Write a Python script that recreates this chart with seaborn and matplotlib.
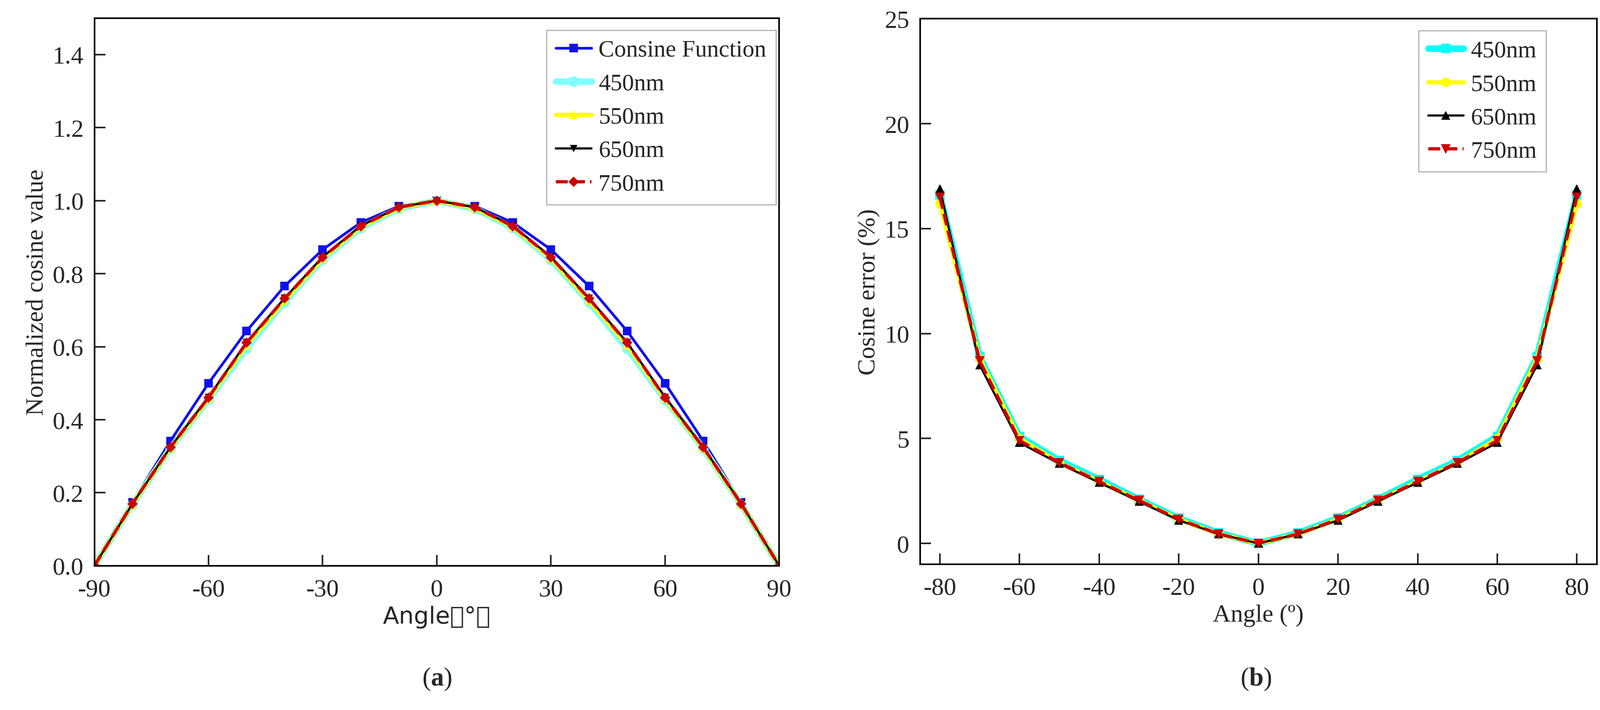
import pandas as pd
import matplotlib.pyplot as plt
import seaborn as sns

# ---- data (a) ----
angle_a = [-90, -80, -70, -60, -50, -40, -30, -20, -10, 0, 10, 20, 30, 40, 50, 60, 70, 80, 90]
cosine_fn = [0.0, 0.174, 0.342, 0.5, 0.643, 0.766, 0.866, 0.940, 0.985, 1.0,
             0.985, 0.940, 0.866, 0.766, 0.643, 0.5, 0.342, 0.174, 0.0]
nm450_a = [0.0, 0.168, 0.322, 0.455, 0.595, 0.722, 0.838, 0.925, 0.978, 1.0,
           0.978, 0.925, 0.838, 0.722, 0.595, 0.455, 0.322, 0.168, 0.0]
nm550_a = [0.0, 0.169, 0.323, 0.458, 0.605, 0.727, 0.842, 0.928, 0.980, 1.0,
           0.980, 0.928, 0.842, 0.727, 0.605, 0.458, 0.323, 0.169, 0.0]
nm650_a = [0.0, 0.170, 0.325, 0.462, 0.612, 0.733, 0.846, 0.931, 0.982, 1.0,
           0.982, 0.931, 0.846, 0.733, 0.612, 0.462, 0.325, 0.170, 0.0]
nm750_a = [0.0, 0.170, 0.325, 0.461, 0.611, 0.732, 0.845, 0.930, 0.982, 1.0,
           0.982, 0.930, 0.845, 0.732, 0.611, 0.461, 0.325, 0.170, 0.0]

# ---- data (b) ----
angle_b = [-80, -70, -60, -50, -40, -30, -20, -10, 0, 10, 20, 30, 40, 50, 60, 70, 80]
nm450_b = [16.6, 8.9, 5.1, 3.95, 3.05, 2.1, 1.2, 0.5, 0.0, 0.5, 1.2, 2.1, 3.05, 3.95, 5.1, 8.9, 16.6]
nm550_b = [16.2, 8.8, 5.0, 3.85, 2.95, 2.05, 1.15, 0.45, 0.0, 0.45, 1.15, 2.05, 2.95, 3.85, 5.0, 8.8, 16.2]
nm650_b = [16.9, 8.5, 4.8, 3.8, 2.9, 2.0, 1.1, 0.45, 0.0, 0.45, 1.1, 2.0, 2.9, 3.8, 4.8, 8.5, 16.9]
nm750_b = [16.5, 8.7, 4.9, 3.85, 2.95, 2.05, 1.15, 0.45, 0.0, 0.45, 1.15, 2.05, 2.95, 3.85, 4.9, 8.7, 16.5]


def main():
    sns.set_theme(style="ticks", font="Liberation Serif")
    plt.rcParams.update({
        "font.size": 23,
        "axes.unicode_minus": False,
        "mathtext.fontset": "custom",
        "mathtext.bf": "Liberation Serif:bold",
        "mathtext.rm": "Liberation Serif",
        "xtick.direction": "in", "ytick.direction": "in",
        "xtick.major.size": 10, "ytick.major.size": 10,
        "xtick.major.width": 1.5, "ytick.major.width": 1.5,
        "xtick.major.pad": 12, "ytick.major.pad": 10,
        "axes.edgecolor": "black", "axes.linewidth": 1.5,
    })
    fig = plt.figure(figsize=(20.64, 9.165), dpi=200)
    ax1 = fig.add_axes([0.059, 0.203, 0.428, 0.771])
    ax2 = fig.add_axes([0.575, 0.205, 0.423, 0.768])

    # panel (a)
    styles_a = [
        ("Consine Function", cosine_fn, "#1010ee", "s", "-", 2.5, 7),
        ("450nm", nm450_a, "#80ffff", "o", "-", 6, 9),
        ("550nm", nm550_a, "#ffff00", "^", "-", 4, 7),
        ("650nm", nm650_a, "black", "v", "-", 2, 6),
        ("750nm", nm750_a, "#cc0000", "D", "--", 3, 6),
    ]
    for name, vals, col, mk, ls, lw, ms in styles_a:
        sns.lineplot(x=angle_a, y=vals, ax=ax1, label=name, color=col, marker=mk,
                     linestyle=ls, linewidth=lw, markersize=ms, markeredgecolor=col)
    ax1.set_xlim(-90, 90)
    ax1.set_ylim(0, 1.5)
    ax1.set_xticks([-90, -60, -30, 0, 30, 60, 90])
    ax1.set_yticks([0.0, 0.2, 0.4, 0.6, 0.8, 1.0, 1.2, 1.4])
    ax1.set_yticklabels([f"{v:.1f}" for v in ax1.get_yticks()])
    ax1.set_xlabel("Angle（°）", fontsize=22, fontfamily="Noto Sans CJK SC")
    ax1.set_ylabel("Normalized cosine value", fontsize=23)
    ax1.tick_params(labelsize=23, top=False, right=False)
    ax1.legend(loc="upper right", bbox_to_anchor=(0.995, 0.978), fontsize=22,
               frameon=True, fancybox=False, edgecolor="#999999", borderaxespad=0,
               handlelength=1.5, handletextpad=0.3)

    # panel (b)
    styles_b = [
        ("450nm", nm450_b, "#00ffff", "s", "-", 6, 8),
        ("550nm", nm550_b, "#ffff00", "o", "-", 4, 8),
        ("650nm", nm650_b, "black", "^", "-", 2, 7),
        ("750nm", nm750_b, "#cc0000", "v", "--", 3, 8),
    ]
    for name, vals, col, mk, ls, lw, ms in styles_b:
        sns.lineplot(x=angle_b, y=vals, ax=ax2, label=name, color=col, marker=mk,
                     linestyle=ls, linewidth=lw, markersize=ms, markeredgecolor=col)
    ax2.set_xlim(-85, 85)
    ax2.set_ylim(-1, 25)
    ax2.set_xticks([-80, -60, -40, -20, 0, 20, 40, 60, 80])
    ax2.set_yticks([0, 5, 10, 15, 20, 25])
    ax2.set_xlabel("Angle (º)", fontsize=23)
    ax2.set_ylabel("Cosine error (%)", fontsize=23)
    ax2.tick_params(labelsize=23, top=False, right=False)
    ax2.legend(loc="upper right", bbox_to_anchor=(0.925, 0.978), fontsize=22,
               frameon=True, fancybox=False, edgecolor="#999999", borderaxespad=0,
               handlelength=1.5, handletextpad=0.3)

    fig.text(0.273, 0.035, r"($\mathbf{a}$)", ha="center", fontsize=24)
    fig.text(0.785, 0.035, r"($\mathbf{b}$)", ha="center", fontsize=24)
    fig.savefig("out.png", dpi=200)


if __name__ == "__main__":
    main()
